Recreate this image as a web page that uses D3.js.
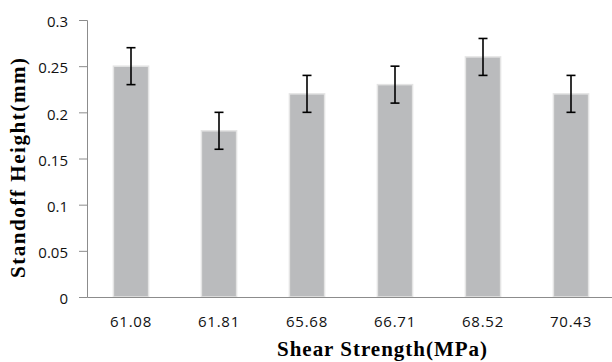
<!DOCTYPE html>
<html><head><meta charset="utf-8">
<script src="https://cdn.jsdelivr.net/npm/d3@7"></script>
<style>body{margin:0;background:#fff}</style>
</head><body>
<svg id="c" width="612" height="362"></svg>
<script>
const categories = ["61.08","61.81","65.68","66.71","68.52","70.43"];
const values = [0.25,0.18,0.22,0.23,0.26,0.22];
const errors = [0.02,0.02,0.02,0.02,0.02,0.02];
const yTicks = [0,0.05,0.1,0.15,0.2,0.25,0.3];

(function(){
const svg = d3.select("#c");
const mLeft = 87, mRight = 615, mTop = 20, mBottom = 297;
const x = d3.scaleBand().domain(categories).range([mLeft,mRight]).paddingInner(0.6).paddingOuter(0.3);
const y = d3.scaleLinear().domain([0,0.3]).range([mBottom,mTop]);
const tickFont = "'Open Sans', sans-serif";

const yAxis = svg.append("g").attr("transform",`translate(${mLeft},0)`)
  .call(d3.axisLeft(y).tickValues(yTicks).tickSize(8).tickFormat(d=>d===0?"0":String(d)));
yAxis.select(".domain").attr("stroke","#8c8c8c");
yAxis.selectAll(".tick line").attr("stroke","#8c8c8c");
yAxis.selectAll("text").attr("font-family",tickFont).attr("font-size",15).attr("fill","#111").attr("x",-19).attr("dy","0.45em");

svg.append("g").selectAll("rect").data(categories).join("rect")
  .attr("x",d=>x(d)).attr("width",x.bandwidth())
  .attr("y",(d,i)=>y(values[i])).attr("height",(d,i)=>mBottom-y(values[i]))
  .attr("fill","#babbbd").attr("stroke","#e4e4e4").attr("stroke-width",1.5);

const xAxis = svg.append("g").attr("transform",`translate(0,${mBottom})`)
  .call(d3.axisBottom(x).tickSize(0).tickPadding(19.5));
xAxis.select(".domain").attr("stroke","#8c8c8c");
xAxis.selectAll("text").attr("font-family",tickFont).attr("font-size",15).attr("fill","#111").attr("letter-spacing","0.8px");

const eb = svg.append("g").attr("stroke","#000").attr("stroke-width",1.6);
categories.forEach((c,i)=>{
  const cx = x(c)+x.bandwidth()/2;
  const y1 = y(values[i]+errors[i]), y0 = y(values[i]-errors[i]);
  eb.append("line").attr("x1",cx).attr("x2",cx).attr("y1",y1).attr("y2",y0);
  eb.append("line").attr("x1",cx-4.5).attr("x2",cx+4.5).attr("y1",y1).attr("y2",y1);
  eb.append("line").attr("x1",cx-4.5).attr("x2",cx+4.5).attr("y1",y0).attr("y2",y0);
});

const titleFont = "'Liberation Serif', 'Times New Roman', serif";
svg.append("text").attr("x",382).attr("y",356).attr("text-anchor","middle")
  .attr("font-family",titleFont).attr("font-weight","bold").attr("font-size",21)
  .attr("textLength",210).attr("lengthAdjust","spacing")
  .text("Shear Strength(MPa)");
svg.append("text").attr("transform","translate(25,168) rotate(-90)").attr("text-anchor","middle")
  .attr("font-family",titleFont).attr("font-weight","bold").attr("font-size",21)
  .attr("textLength",220).attr("lengthAdjust","spacing")
  .text("Standoff Height(mm)");
})();
</script>
</body></html>
